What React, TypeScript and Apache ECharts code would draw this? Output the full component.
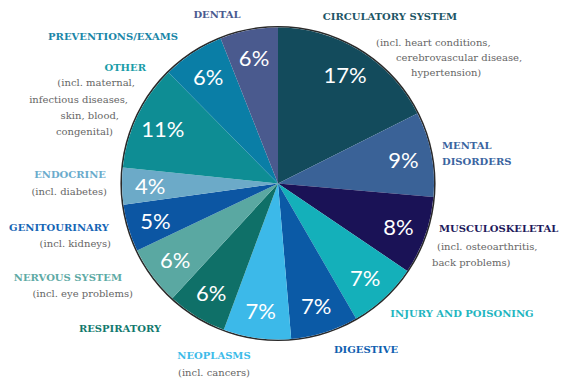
import React, { useEffect, useRef } from "react";
import * as echarts from "echarts";

// ---- data ----
const categories = [
  "CIRCULATORY SYSTEM",
  "MENTAL DISORDERS",
  "MUSCULOSKELETAL",
  "INJURY AND POISONING",
  "DIGESTIVE",
  "NEOPLASMS",
  "RESPIRATORY",
  "NERVOUS SYSTEM",
  "GENITOURINARY",
  "ENDOCRINE",
  "OTHER",
  "PREVENTIONS/EXAMS",
  "DENTAL",
];
const shares = [17.6, 8.8, 8.1, 7.2, 7.0, 7.0, 6.2, 6.1, 4.9, 3.8, 11.0, 6.4, 6.0];
const shownPct = ["17%", "9%", "8%", "7%", "7%", "7%", "6%", "6%", "5%", "4%", "11%", "6%", "6%"];
const notes: string[][] = [
  ["(incl. heart conditions,", "cerebrovascular disease,", "hypertension)"],
  [],
  ["(incl. osteoarthritis,", "back problems)"],
  [],
  [],
  ["(incl. cancers)"],
  [],
  ["(incl. eye problems)"],
  ["(incl. kidneys)"],
  ["(incl. diabetes)"],
  ["(incl. maternal,", "infectious diseases,", "skin, blood,", "congenital)"],
  [],
  [],
];

// ---- styles / layout ----
const sliceColors = [
  "#134b5c", "#3a6297", "#1a1256", "#14b0ba", "#0b5aa6", "#3cb9e9", "#0f7068",
  "#5aa8a2", "#0c56a3", "#6caac8", "#0e8d94", "#0a7ea6", "#4a5a8e",
];
const headColors = [
  "#1d5565", "#3a64a0", "#1e1a5c", "#1fb5c0", "#1060b0", "#3dbbe9", "#12796e",
  "#5eaaa5", "#1565b5", "#6aabcc", "#1a9ca8", "#1a86a8", "#4a5a90",
];
type P = [number, number, "left" | "right" | "center"];
const headPos: P[] = [
  [390, 16, "center"],
  [442, 153, "left"],
  [439, 228, "left"],
  [462, 313, "center"],
  [366, 349, "center"],
  [214, 355, "center"],
  [120, 328, "center"],
  [122, 277, "right"],
  [109, 227, "right"],
  [106, 174, "right"],
  [146, 67, "right"],
  [113, 36, "center"],
  [217, 14, "center"],
];
const notePos: P[][] = [
  [[376, 42, "left"], [396, 57, "left"], [411, 72, "left"]],
  [],
  [[437, 246, "left"], [432, 262, "left"]],
  [],
  [],
  [[214, 372, "center"]],
  [],
  [[133, 293, "right"]],
  [[111, 243, "right"]],
  [[107, 191, "right"]],
  [[135, 82, "right"], [128, 99, "right"], [119, 115, "right"], [113, 131, "right"]],
  [],
  [],
];
const CX = 278;
const CY = 183.5;
const R = 156;

export default function App() {
  const ref = useRef<HTMLDivElement>(null);
  useEffect(() => {
    if (!ref.current) return;
    const chart = echarts.init(ref.current, undefined, { renderer: "svg" });
    const headFont = 'bold 10px "DejaVu Serif"';
    const graphics: any[] = [];
    categories.forEach((c, i) => {
      const hp = headPos[i];
      const headText = i === 1 ? "MENTAL\nDISORDERS" : c;
      graphics.push({
        type: "text",
        x: hp[0],
        y: hp[1],
        style: {
          text: headText,
          fill: headColors[i],
          font: headFont,
          align: hp[2],
          verticalAlign: "middle",
          lineHeight: 16,
        },
      });
      notes[i].forEach((line, j) => {
        const np = notePos[i][j];
        graphics.push({
          type: "text",
          x: np[0],
          y: np[1],
          style: {
            text: line,
            fill: "#666666",
            font: '10px "DejaVu Serif"',
            align: np[2],
            verticalAlign: "middle",
          },
        });
      });
    });

    const data = categories.map((c, i) => ({
      name: c,
      value: shares[i],
      itemStyle: { color: sliceColors[i] },
    }));
    const labelData = categories.map((c, i) => ({
      name: c,
      value: shares[i],
      label: { formatter: shownPct[i] },
    }));

    chart.setOption({
      animation: false,
      series: [
        {
          type: "pie",
          center: [CX, CY],
          radius: [R, R + 1.6],
          silent: true,
          label: { show: false },
          labelLine: { show: false },
          data: [{ value: 1, itemStyle: { color: "#2a2a2a" } }],
        },
        {
          type: "pie",
          center: [CX, CY],
          radius: [0, R],
          startAngle: 90,
          clockwise: true,
          silent: true,
          label: { show: false },
          labelLine: { show: false },
          itemStyle: { borderWidth: 0 },
          data,
        },
        {
          type: "pie",
          center: [CX, CY],
          radius: [R * 0.6, R],
          startAngle: 90,
          clockwise: true,
          silent: true,
          itemStyle: { color: "transparent" },
          labelLine: { show: false },
          label: {
            show: true,
            position: "inside",
            color: "#ffffff",
            fontFamily: "Lato",
            fontWeight: 400,
            fontSize: 22,
          },
          data: labelData,
        },
      ],
      graphic: graphics,
    });
    return () => chart.dispose();
  }, []);
  return (
    <div
      ref={ref}
      style={{ position: "fixed", left: 0, top: 0, width: 574, height: 388, background: "#ffffff" }}
    />
  );
}
